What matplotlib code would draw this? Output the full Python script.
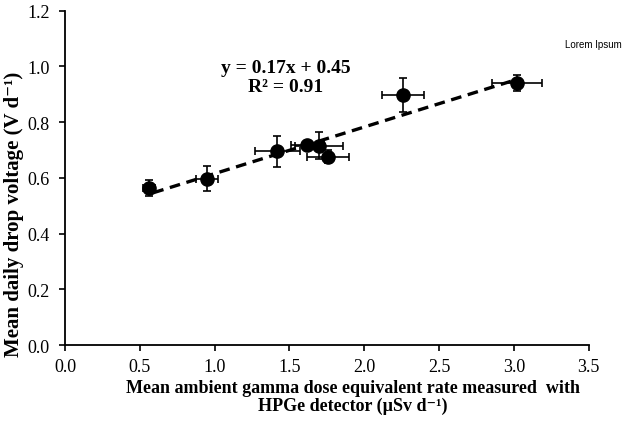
import matplotlib

matplotlib.use("Agg")
import matplotlib.pyplot as plt  # noqa: E402
import numpy as np  # noqa: E402

# dose rate (uSv/d) vs daily voltage drop (V/d), with error bars
dose_rate = [0.56, 0.95, 1.42, 1.62, 1.70, 1.76, 2.26, 3.02]
dose_err = [0.04, 0.075, 0.15, 0.11, 0.16, 0.14, 0.14, 0.165]
voltage_drop = [0.564, 0.597, 0.695, 0.719, 0.716, 0.676, 0.899, 0.941]
voltage_err = [0.03, 0.045, 0.056, 0.008, 0.047, 0.024, 0.061, 0.029]

x_ticks = [0.0, 0.5, 1.0, 1.5, 2.0, 2.5, 3.0, 3.5]
y_ticks = [0.0, 0.2, 0.4, 0.6, 0.8, 1.0, 1.2]

plt.rcParams["font.family"] = ["Liberation Serif", "DejaVu Serif"]

fig = plt.figure(figsize=(6.25, 4.31), dpi=100)
ax = fig.add_axes([0.104, 0.197, 0.838, 0.776])

ax.errorbar(
    dose_rate, voltage_drop, xerr=dose_err, yerr=voltage_err,
    fmt="o", color="black", markersize=9.5, elinewidth=1.2,
    capsize=3, capthick=1.2, zorder=3,
)

# linear trend line over the data range
slope, intercept = np.polyfit(dose_rate, voltage_drop, 1)
fit_x = np.array([min(dose_rate) + 0.03, max(dose_rate)])
ax.plot(fit_x, slope * fit_x + intercept, linestyle=(0, (3.2, 2.0)),
        color="black", linewidth=2.4, zorder=2)

ax.text(1.476, 0.962, "y = 0.17x + 0.45\nR² = 0.91", ha="center", va="center",
        fontsize=14, fontweight="bold", linespacing=1.2)

ax.set_xlim(0, 3.5)
ax.set_ylim(0, 1.2)
ax.set_xticks(x_ticks)
ax.set_yticks(y_ticks)
ax.set_xticklabels([f"{t:.1f}" for t in x_ticks])
ax.set_yticklabels([f"{t:.1f}" for t in y_ticks])
ax.tick_params(labelsize=13, direction="out", length=4, width=1.2, colors="black")
ax.tick_params(axis="x", pad=5)
ax.tick_params(axis="y", pad=7)
for side in ("top", "right"):
    ax.spines[side].set_visible(False)
for side in ("left", "bottom"):
    ax.spines[side].set_linewidth(1.3)

ax.set_xlabel("Mean ambient gamma dose equivalent rate measured  with\n"
              "HPGe detector (µSv d⁻¹)",
              fontsize=13, fontweight="bold", linespacing=1.1)
ax.xaxis.set_label_coords(0.55, -0.1)
ax.set_ylabel("Mean daily drop voltage (V d⁻¹)", fontsize=15, fontweight="bold")
ax.yaxis.set_label_coords(-0.078, 0.395)

fig.text(0.995, 0.896, "Lorem Ipsum", ha="right", va="center",
         fontsize=7, family="Liberation Sans")

fig.savefig("out.png", dpi=100)
